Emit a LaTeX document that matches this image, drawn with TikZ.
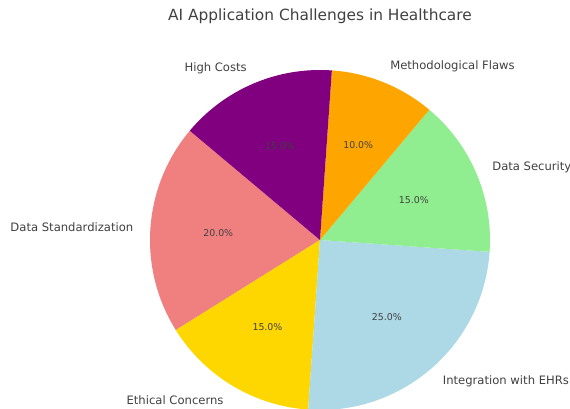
\documentclass[tikz,border=0pt]{standalone}
\usepackage{fontspec}
\setmainfont{DejaVu Sans}
\definecolor{cpurple}{RGB}{128,0,128}
\definecolor{corange}{RGB}{255,165,0}
\definecolor{cgreen}{RGB}{144,238,144}
\definecolor{cblue}{RGB}{173,216,230}
\definecolor{cgold}{RGB}{255,215,0}
\definecolor{ccoral}{RGB}{240,128,128}
\definecolor{ctext}{RGB}{64,64,64}
\tikzset{
  lab/.style={inner sep=0pt, text=ctext, font=\fontsize{11.6}{13}\selectfont},
  pct/.style={inner sep=0pt, text=ctext, font=\fontsize{9.4}{11}\selectfont},
  ttl/.style={inner sep=0pt, text=ctext, font=\fontsize{15.4}{18}\selectfont}
}
\begin{document}
\begin{tikzpicture}[x=1pt,y=1pt]
\useasboundingbox (0,0) rectangle (570,409);
\begin{scope}
\clip (0,0) rectangle (570,409);
\coordinate (c) at (320,169);
\fill[ccoral] (c) -- +(140:170) arc[start angle=140,end angle=212,radius=170] -- cycle;
\fill[cgold] (c) -- +(212:170) arc[start angle=212,end angle=266,radius=170] -- cycle;
\fill[cblue] (c) -- +(266:170) arc[start angle=266,end angle=356,radius=170] -- cycle;
\fill[cgreen] (c) -- +(356:170) arc[start angle=356,end angle=410,radius=170] -- cycle;
\fill[corange] (c) -- +(50:170) arc[start angle=50,end angle=86,radius=170] -- cycle;
\fill[cpurple] (c) -- +(86:170) arc[start angle=86,end angle=140,radius=170] -- cycle;
\end{scope}
\node[ttl] (title) at (320,393) {AI Application Challenges in Healthcare};
\node[lab,anchor=east] (lds) at ([shift={(176:187)}]c) {Data Standardization};
\node[lab,anchor=east] (leth) at ([shift={(239:187)}]c) {Ethical Concerns};
\node[lab,anchor=west] (lehr) at ([shift={(311:187)}]c) {Integration with EHRs};
\node[lab,anchor=west] (lsec) at ([shift={(23:187)}]c) {Data Security};
\node[lab,anchor=west] (lmeth) at ([shift={(68:187)}]c) {Methodological Flaws};
\node[lab,anchor=east] (lhc) at ([shift={(113:187)}]c) {High Costs};
\node[pct] (pds) at ([shift={(176:102)}]c) {20.0\%};
\node[pct] (peth) at ([shift={(239:102)}]c) {15.0\%};
\node[pct] (pehr) at ([shift={(311:102)}]c) {25.0\%};
\node[pct] (psec) at ([shift={(23:102)}]c) {15.0\%};
\node[pct] (pmeth) at ([shift={(68:102)}]c) {10.0\%};
\node[pct] (phc) at ([shift={(113:102)}]c) {15.0\%};
\end{tikzpicture}
\end{document}
